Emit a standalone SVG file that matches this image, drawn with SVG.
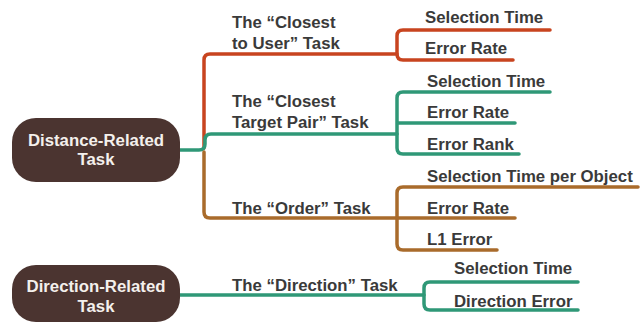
<svg xmlns="http://www.w3.org/2000/svg" width="642" height="324" viewBox="0 0 642 324">
<style>
.node{fill:#4b3430}
.nt{font-family:"Liberation Sans",Arial,sans-serif;font-weight:bold;font-size:16.8px;fill:#f4f0ec;text-anchor:middle}
.t{font-family:"Liberation Sans",Arial,sans-serif;font-weight:bold;font-size:16.8px;fill:#3a3a3a}
.c{fill:none;stroke-width:3.5;stroke-linecap:round;stroke-linejoin:round}
.red{stroke:#c8441f}
.grn{stroke:#2f9877}
.brn{stroke:#a96b2b}
</style>
<rect width="642" height="324" fill="#ffffff"/>
<g id="connectors">
<path class="c red" d="M204 148 L204 60 Q204 54 210 54 L397 54"/>
<path class="c red" d="M550 30 L403 30 Q397 30 397 36 L397 54 Q397 60 403 60 L513 60"/>
<path class="c grn" d="M180 150 L199 150 Q205 150 205 144 L205 140 Q205 134 211 134 L397 134"/>
<path class="c grn" d="M550 92 L403 92 Q397 92 397 98 L397 148 Q397 154 403 154 L519 154 M397 123 L515 123"/>
<path class="c brn" d="M204 152 L204 212 Q204 218 210 218 L515 218"/>
<path class="c brn" d="M638 187 L403 187 Q397 187 397 193 L397 244 Q397 250 403 250 L497 250"/>
<path class="c grn" d="M180 295 L424 295"/>
<path class="c grn" d="M578 282 L430 282 Q424 282 424 288 L424 304 Q424 310 430 310 L578 310"/>
</g>
<g id="n-distance">
<rect class="node" x="12" y="118" width="168" height="64" rx="24"/>
<text class="nt" x="96" y="146">Distance-Related</text>
<text class="nt" x="96" y="165">Task</text>
</g>
<g id="n-direction">
<rect class="node" x="12" y="265" width="168" height="57" rx="24"/>
<text class="nt" x="96" y="292">Direction-Related</text>
<text class="nt" x="96" y="312">Task</text>
</g>
<g id="n-closest-user">
<text class="t" x="232" y="28">The “Closest</text>
<text class="t" x="232" y="49">to User” Task</text>
</g>
<g id="n-closest-pair">
<text class="t" x="232" y="107">The “Closest</text>
<text class="t" x="232" y="128">Target Pair” Task</text>
</g>
<g id="n-order">
<text class="t" x="232" y="214">The “Order” Task</text>
</g>
<g id="n-direction-task">
<text class="t" x="232" y="291">The “Direction” Task</text>
</g>
<g id="l-cu-sel"><text class="t" x="425" y="23">Selection Time</text></g>
<g id="l-cu-err"><text class="t" x="425" y="54">Error Rate</text></g>
<g id="l-cp-sel"><text class="t" x="427" y="87">Selection Time</text></g>
<g id="l-cp-err"><text class="t" x="427" y="118">Error Rate</text></g>
<g id="l-cp-rank"><text class="t" x="427" y="150">Error Rank</text></g>
<g id="l-or-sel"><text class="t" x="427" y="182">Selection Time per Object</text></g>
<g id="l-or-err"><text class="t" x="427" y="214">Error Rate</text></g>
<g id="l-or-l1"><text class="t" x="427" y="245">L1 Error</text></g>
<g id="l-di-sel"><text class="t" x="454" y="274">Selection Time</text></g>
<g id="l-di-err"><text class="t" x="454" y="307">Direction Error</text></g>
</svg>
